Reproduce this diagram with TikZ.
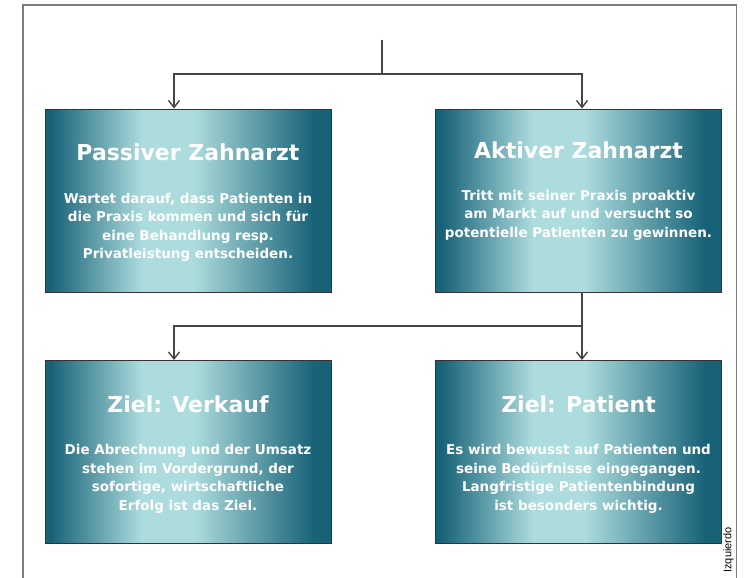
\documentclass[tikz,border=0pt]{standalone}
\usepackage{fontspec}
\setmainfont{DejaVu Sans}
\newfontfamily\creditfont{Liberation Sans}
\usepackage{tikz}
\usetikzlibrary{
  arrows.meta,
  positioning
}

\definecolor{tealdunkel}{RGB}{24,98,120}
\definecolor{tealhell}{RGB}{172,220,221}
\definecolor{pfeilgrau}{RGB}{70,70,70}
\definecolor{rahmengrau}{RGB}{125,125,125}

\pgfdeclarehorizontalshading{tealverlauf}{100bp}{
  color(0bp)=(tealdunkel); color(26bp)=(tealdunkel);
  color(42bp)=(tealhell); color(51bp)=(tealhell);
  color(72bp)=(tealdunkel); color(100bp)=(tealdunkel)}

\tikzset{
  kasten/.style={draw=black!80, line width=0.9pt, shading=tealverlauf,
    minimum width=286pt, minimum height=183pt, inner sep=0pt},
  titel/.style={text=white, font=\bfseries\fontsize{22}{26}\selectfont},
  rumpf/.style={text=white, align=center, anchor=north, inner sep=0pt,
    font=\bfseries\fontsize{13.5}{18.5}\selectfont},
  pfeil/.style={draw=pfeilgrau, line width=1.4pt}
}

\begin{document}
\begin{tikzpicture}[x=1pt,y=-1pt,>={Straight Barb[length=7pt,width=11pt]}]
  \useasboundingbox (0,0) rectangle (744,578);
  % Rahmen
  \draw[rahmengrau,line width=1.5pt] (23,578) -- (23,5) -- (736.5,5) -- (736.5,578);

  \node[kasten] (passiv)  at (188,200.5) {};
  \node[kasten] (aktiv)   at (578.5,200.5) {};
  \node[kasten] (verkauf) at (188,452) {};
  \node[kasten] (patient) at (578.5,452) {};

  \node[titel] (passivT)  at ([yshift=-44pt]passiv.north)  {Passiver Zahnarzt};
  \node[titel] (aktivT)   at ([yshift=-42pt]aktiv.north)   {Aktiver Zahnarzt};
  \node[titel] (verkaufT) at ([yshift=-44pt]verkauf.north) {Ziel: Verkauf};
  \node[titel] (patientT) at ([yshift=-44pt]patient.north) {Ziel: Patient};

  \node[rumpf] (passivB) at ([yshift=-84pt]passiv.north)
    {Wartet darauf, dass Patienten in\\die Praxis kommen und sich für\\eine Behandlung resp.\\Privatleistung entscheiden.};
  \node[rumpf] (aktivB) at ([yshift=-81pt]aktiv.north)
    {Tritt mit seiner Praxis proaktiv\\am Markt auf und versucht so\\potentielle Patienten zu gewinnen.};
  \node[rumpf] (verkaufB) at ([yshift=-84pt]verkauf.north)
    {Die Abrechnung und der Umsatz\\stehen im Vordergrund, der\\sofortige, wirtschaftliche\\Erfolg ist das Ziel.};
  \node[rumpf] (patientB) at ([yshift=-84pt]patient.north)
    {Es wird bewusst auf Patienten und\\seine Bedürfnisse eingegangen.\\Langfristige Patientenbindung\\ist besonders wichtig.};

  % Verbindungen
  \coordinate (quelle)  at (382,40);
  \coordinate (gabel)   at (382,74);
  \coordinate (abzweig) at (582,326);
  \draw[pfeil] (quelle) -- (gabel);
  \draw[pfeil,->] (gabel) -| ([xshift=-14pt]passiv.north);
  \draw[pfeil,->] (gabel) -| ([xshift=3.5pt]aktiv.north);
  \draw[pfeil,->] ([xshift=3.5pt]aktiv.south) -- ([xshift=3.5pt]patient.north);
  \draw[pfeil,->] (abzweig) -| ([xshift=-14pt]verkauf.north);

  \node[rotate=90,font=\creditfont\fontsize{11}{12}\selectfont] (autor) at (728.5,550) {Izquierdo};
\end{tikzpicture}
\end{document}
